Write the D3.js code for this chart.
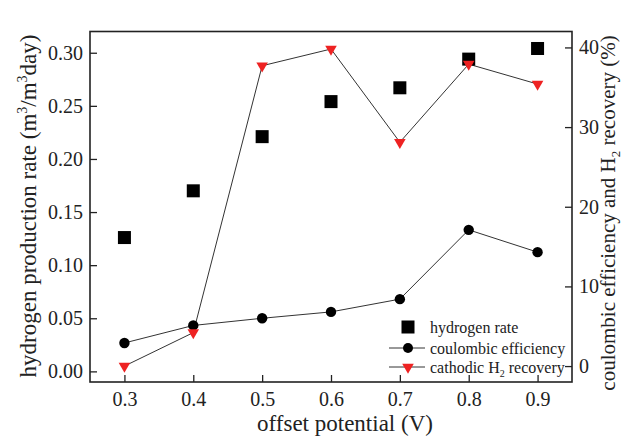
<!DOCTYPE html>
<html><head><meta charset="utf-8">
<script src="https://cdn.jsdelivr.net/npm/d3@7"></script>
<style>body{margin:0;background:#fff}svg{display:block}</style>
</head><body><svg id="c" width="633" height="437"></svg>
<script>
// ---- data ----
const potentials = [0.3, 0.4, 0.5, 0.6, 0.7, 0.8, 0.9];
const hydrogenRate = [0.126, 0.170, 0.221, 0.254, 0.267, 0.294, 0.304];
const coulombicEff = [2.9, 5.1, 6.0, 6.8, 8.4, 17.1, 14.3];
const cathodicRecovery = [0.0, 4.2, 37.7, 39.8, 28.1, 37.9, 35.4];
const xTicks = [0.3, 0.4, 0.5, 0.6, 0.7, 0.8, 0.9];
const leftTicks = [0.00, 0.05, 0.10, 0.15, 0.20, 0.25, 0.30];
const rightTicks = [0, 10, 20, 30, 40];
const legendLabels = ["hydrogen rate", "coulombic efficiency", "cathodic H", "2", " recovery"];

// ---- layout ----
const svg = d3.select("#c");
const L = 90, R = 572, T = 31.5, B = 382;
const font = "'Liberation Serif','Times New Roman',serif";
const ink = "#222";
const red = "#ee2222";

const x = d3.scaleLinear().domain([0.25, 0.95]).range([L, R]);
const yL = d3.scaleLinear().domain([-0.01, 0.32]).range([B, T]);
const yR = d3.scaleLinear().domain([-2, 42]).range([B, T]);

function styleAxis(g) {
  g.select(".domain").remove();
  g.selectAll(".tick line").attr("stroke", ink).attr("stroke-width", 1.3);
  g.selectAll(".tick text").attr("font-family", font).attr("font-size", 20).attr("fill", ink);
}

// axes (ticks inward)
const gx = svg.append("g").attr("transform", `translate(0,${B})`)
  .call(d3.axisBottom(x).tickValues(xTicks).tickFormat(d3.format(".1f")).tickSizeInner(-7).tickPadding(10));
styleAxis(gx);

const gl = svg.append("g").attr("transform", `translate(${L},0)`)
  .call(d3.axisLeft(yL).tickValues(leftTicks).tickFormat(d3.format(".2f")).tickSizeInner(-7).tickPadding(7));
styleAxis(gl);

const gr = svg.append("g").attr("transform", `translate(${R},0)`)
  .call(d3.axisRight(yR).tickValues(rightTicks).tickFormat(d3.format("d")).tickSizeInner(-7).tickPadding(7));
styleAxis(gr);

// frame
svg.append("rect").attr("x", L).attr("y", T).attr("width", R - L).attr("height", B - T)
  .attr("fill", "none").attr("stroke", ink).attr("stroke-width", 1.6);

// lines
const lineCE = d3.line().x((d, i) => x(potentials[i])).y(d => yR(d));
svg.append("path").datum(coulombicEff).attr("d", lineCE)
  .attr("fill", "none").attr("stroke", "#333").attr("stroke-width", 1);
svg.append("path").datum(cathodicRecovery).attr("d", lineCE)
  .attr("fill", "none").attr("stroke", "#333").attr("stroke-width", 1);

// markers
const sq = 13;
svg.append("g").selectAll("rect").data(hydrogenRate).join("rect")
  .attr("x", (d, i) => x(potentials[i]) - sq / 2).attr("y", d => yL(d) - sq / 2)
  .attr("width", sq).attr("height", sq).attr("fill", "#000");

svg.append("g").selectAll("circle").data(coulombicEff).join("circle")
  .attr("cx", (d, i) => x(potentials[i])).attr("cy", d => yR(d)).attr("r", 5.2).attr("fill", "#000");

const tri = d3.symbol().type(d3.symbolTriangle).size(58);
svg.append("g").selectAll("path").data(cathodicRecovery).join("path")
  .attr("d", tri)
  .attr("transform", (d, i) => `translate(${x(potentials[i])},${yR(d)}) rotate(180)`)
  .attr("fill", red);

// axis titles
svg.append("text").attr("x", (L + R) / 2 + 14).attr("y", 431).attr("text-anchor", "middle")
  .attr("font-family", font).attr("font-size", 23).attr("fill", ink).text("offset potential (V)");

const lt = svg.append("text").attr("transform", "translate(36,206) rotate(-90)")
  .attr("text-anchor", "middle").attr("font-family", font).attr("font-size", 23).attr("fill", ink);
lt.append("tspan").text("hydrogen production rate (m");
lt.append("tspan").attr("font-size", 14).attr("dy", -9).text("3");
lt.append("tspan").attr("dy", 9).text("/m");
lt.append("tspan").attr("font-size", 14).attr("dy", -9).text("3");
lt.append("tspan").attr("dy", 9).text("day)");

const rt = svg.append("text").attr("transform", "translate(615,213) rotate(-90)")
  .attr("text-anchor", "middle").attr("font-family", font).attr("font-size", 21).attr("fill", ink);
rt.append("tspan").text("coulombic efficiency and H");
rt.append("tspan").attr("font-size", 13).attr("dy", 5).text("2");
rt.append("tspan").attr("dy", -5).text(" recovery (%)");

// legend
const lg = svg.append("g");
const lx = 408, rows = [327, 348, 367], tx = 430;
lg.append("rect").attr("x", lx - sq / 2).attr("y", rows[0] - sq / 2).attr("width", sq).attr("height", sq).attr("fill", "#000");
[1, 2].forEach(k => {
  lg.append("line").attr("x1", 389).attr("x2", 425).attr("y1", rows[k]).attr("y2", rows[k])
    .attr("stroke", "#333").attr("stroke-width", 1);
});
lg.append("circle").attr("cx", lx).attr("cy", rows[1]).attr("r", 5).attr("fill", "#000");
lg.append("path").attr("d", tri).attr("transform", `translate(${lx},${rows[2]}) rotate(180)`).attr("fill", red);

const ltxt = (y) => lg.append("text").attr("x", tx).attr("y", y + 5.5)
  .attr("font-family", font).attr("font-size", 16).attr("fill", ink);
ltxt(rows[0]).text(legendLabels[0]);
ltxt(rows[1]).text(legendLabels[1]);
const t3 = ltxt(rows[2]);
t3.append("tspan").text(legendLabels[2]);
t3.append("tspan").attr("font-size", 10).attr("dy", 4).text(legendLabels[3]);
t3.append("tspan").attr("dy", -4).text(legendLabels[4]);
</script></body></html>
